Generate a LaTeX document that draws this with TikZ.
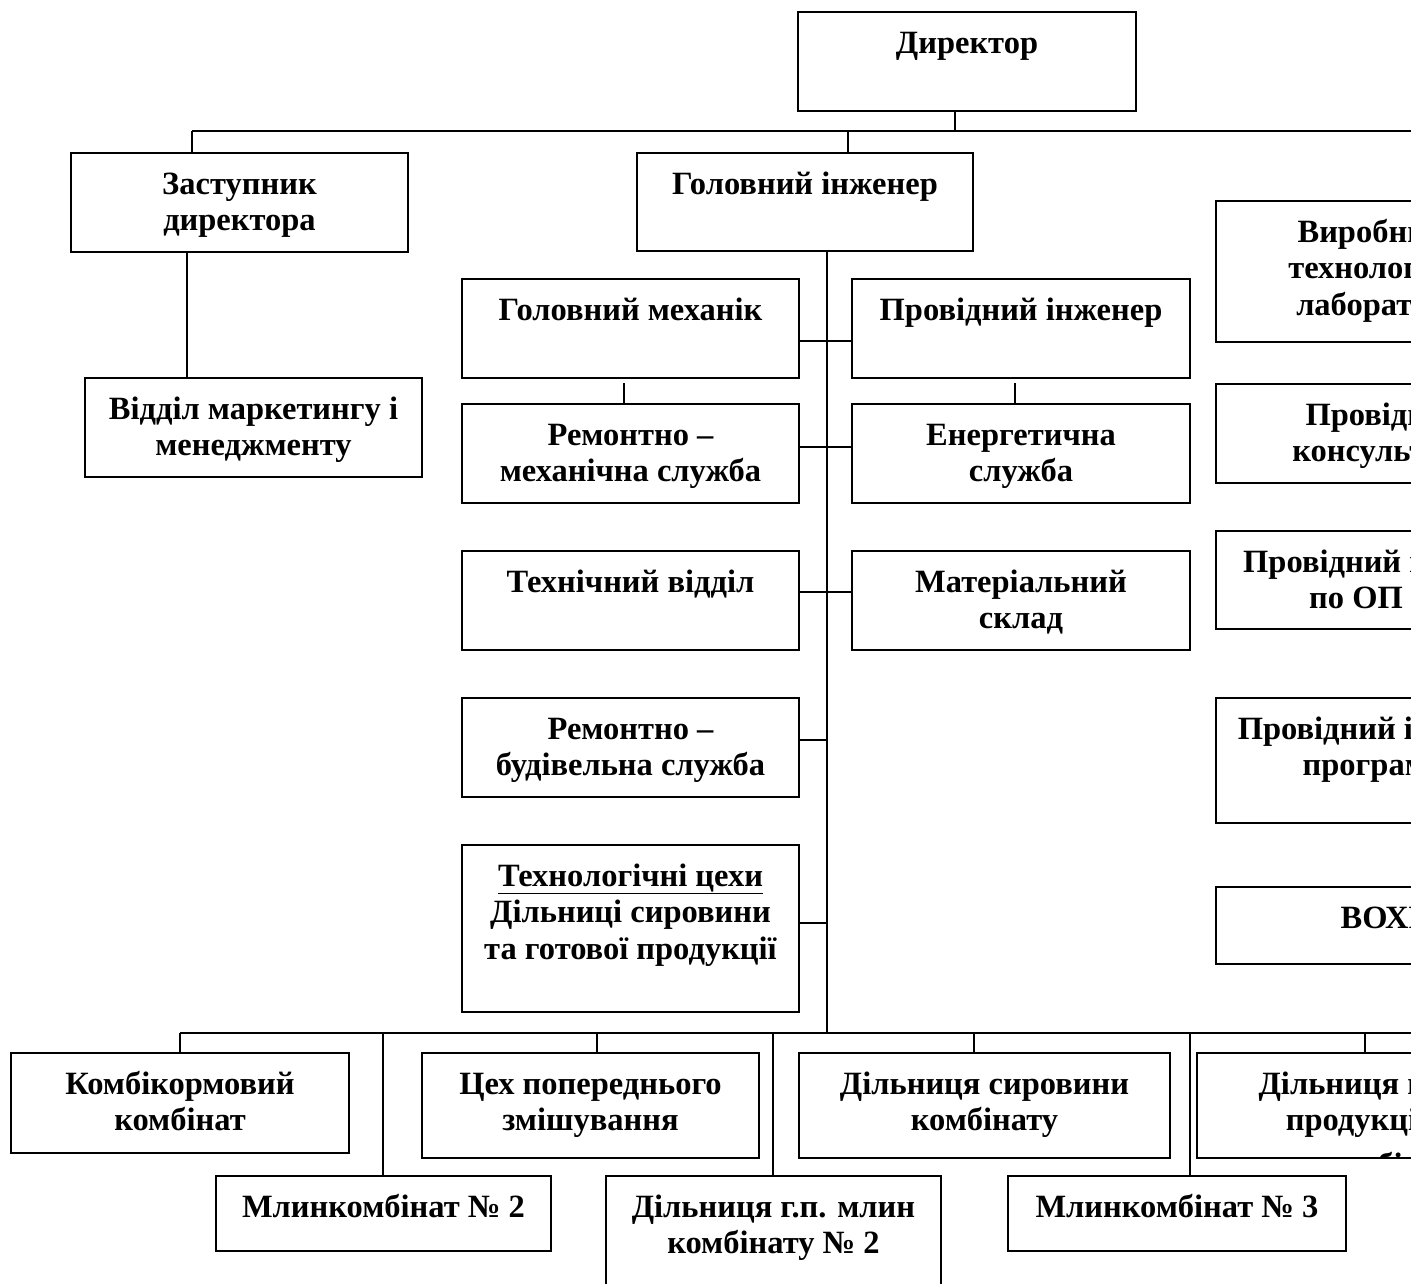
\documentclass[tikz,border=0pt]{standalone}
\usepackage{fontspec}
\setmainfont{Liberation Serif}
\usetikzlibrary{calc}
\newcommand{\flh}{\rule{0pt}{30pt}}
\newcommand{\orgbox}[6]{%
  \node[boxst, minimum width=#4pt-#2pt, minimum height=#5pt-#3pt, anchor=north west] (#1) at (#2,#3) {};
  \node[txtst, anchor=north] (#1-t) at ($(#1.north)+(0,11)$) {\flh#6};
}
\begin{document}
\begin{tikzpicture}[x=1pt,y=-1pt,
  boxst/.style={draw, line width=1.8pt, inner sep=0pt, outer sep=0pt},
  txtst/.style={font=\fontsize{32.5}{36.5}\selectfont\bfseries, align=center, inner sep=0pt, outer sep=0pt},
  conn/.style={line width=1.4pt}]
\useasboundingbox (0,0) rectangle (1411,1283);
\clip (0,0) rectangle (1411,1283);
\fill[white] (0,0) rectangle (1411,1283);

\orgbox{dir}{798}{12}{1136}{111}{Директор}
\orgbox{zast}{71}{153}{408}{252}{Заступник\\директора}
\orgbox{ghi}{637}{153}{973}{251}{Головний інженер}
\orgbox{vmm}{85}{378}{422}{477}{Відділ маркетингу і\\менеджменту}
\orgbox{gm}{462}{279}{799}{378}{Головний механік}
\orgbox{pi}{852}{279}{1190}{378}{Провідний інженер}
\orgbox{rms}{462}{404}{799}{503}{Ремонтно –\\механічна служба}
\orgbox{es}{852}{404}{1190}{503}{Енергетична\\служба}
\orgbox{tv}{462}{551}{799}{650}{Технічний відділ}
\orgbox{ms}{852}{551}{1190}{650}{Матеріальний\\склад}
\orgbox{rbs}{462}{698}{799}{797}{Ремонтно –\\будівельна служба}
\orgbox{tc}{462}{845}{799}{1012}{\underline{Технологічні цехи}\\Дільниці сировини\\та готової продукції}

\orgbox{vtl}{1216}{201}{1553}{342}{Виробничо-\\технологічна\\лабораторія}
\orgbox{pk}{1216}{384}{1553}{483}{Провідний\\консультант}
\orgbox{pop}{1216}{531}{1553}{629}{Провідний інженер\\по ОП\hspace*{57pt}}
\orgbox{pip}{1216}{698}{1553}{823}{Провідний інженер-\\програміст}
\orgbox{vohr}{1216}{887}{1553}{964}{ВОХР}

\orgbox{kk}{11}{1053}{349}{1153}{Комбікормовий\\комбінат}
\orgbox{cpz}{422}{1053}{759}{1158}{Цех попереднього\\змішування}
\orgbox{dsk}{799}{1053}{1170}{1158}{Дільниця сировини\\комбінату}
\node[boxst, minimum width=318pt, minimum height=105pt, anchor=north west] (dgpp) at (1197,1053) {};
\begin{scope}
  \clip (dgpp.north west) rectangle (dgpp.south east);
  \node[txtst, anchor=north] (dgpp-t) at ($(dgpp.north)+(0,11)$) {\flh Дільниця г.п.\\продукції\\[8pt]млинкомбінату};
\end{scope}
\orgbox{mk2}{216}{1176}{551}{1251}{Млинкомбінат № 2}
\orgbox{dgp}{606}{1176}{941}{1300}{Дільниця г.п. млин\\комбінату № 2}
\orgbox{mk3}{1008}{1176}{1346}{1251}{Млинкомбінат № 3}

% top level connectors
\coordinate (jd) at (955,131);
\coordinate (jz) at (192,131);
\coordinate (jg) at (848,131);
\coordinate (b1end) at (1411,131);
\draw[conn] (dir.south -| jd) -- (jd);
\draw[conn] (jz) -- (b1end);
\draw[conn] (jz) -- (jz |- zast.north);
\draw[conn] (jg) -- (jg |- ghi.north);
\coordinate (jv) at (187,300);
\draw[conn] (zast.south -| jv) -- (vmm.north -| jv);

% trunk
\coordinate (jt) at (827,1033);
\draw[conn] (ghi.south -| jt) -- (jt);
\coordinate (r1) at (827,341);
\coordinate (r2) at (827,447);
\coordinate (r3) at (827,592);
\coordinate (r4) at (827,740);
\coordinate (r5) at (827,923);
\draw[conn] (gm.east |- r1) -- (pi.west |- r1);
\draw[conn] (rms.east |- r2) -- (es.west |- r2);
\draw[conn] (tv.east |- r3) -- (ms.west |- r3);
\draw[conn] (rbs.east |- r4) -- (r4);
\draw[conn] (tc.east |- r5) -- (r5);
\coordinate (s1) at (624,383);
\coordinate (s2) at (1015,383);
\draw[conn] (s1) -- (s1 |- rms.north);
\draw[conn] (s2) -- (s2 |- es.north);

% bottom bus
\coordinate (b2l) at (180,1033);
\coordinate (b2r) at (1411,1033);
\draw[conn] (b2l) -- (b2r);
\coordinate (d2) at (597,1033);
\coordinate (d3) at (974,1033);
\coordinate (d4) at (1365,1033);
\coordinate (e1) at (383,1033);
\coordinate (e2) at (773,1033);
\coordinate (e3) at (1190,1033);
\draw[conn] (b2l) -- (b2l |- kk.north);
\draw[conn] (d2) -- (d2 |- cpz.north);
\draw[conn] (d3) -- (d3 |- dsk.north);
\draw[conn] (d4) -- (d4 |- dgpp.north);
\draw[conn] (e1) -- (e1 |- mk2.north);
\draw[conn] (e2) -- (e2 |- dgp.north);
\draw[conn] (e3) -- (e3 |- mk3.north);
\end{tikzpicture}
\end{document}
